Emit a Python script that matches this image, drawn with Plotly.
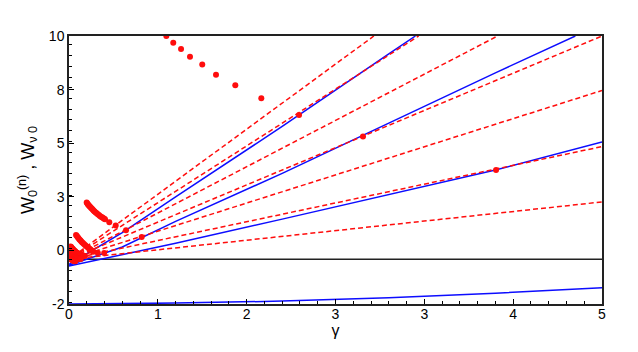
import numpy as np
import plotly.graph_objects as go

# ---- data ----
x_tick_labels = ["0", "1", "2", "3", "3", "4", "5"]
y_tick_labels = ["-2", "0", "3", "5", "8", "10"]

# solid blue curves
blue1_g = [0.0, 0.5, 1.0, 2.0, 3.0, 3.25]
blue1_w = [-0.22, 1.2, 2.8, 5.95, 9.2, 10.0]
blue2_g = [0.0, 0.5, 1.0, 2.0, 3.0, 4.0, 4.75]
blue2_w = [-0.27, 0.55, 1.7, 3.85, 6.1, 8.35, 10.0]
blue3_g = [0.0, 1.0, 2.0, 3.0, 4.0, 5.0]
blue3_w = [-0.3, 0.72, 1.8, 2.9, 4.0, 5.25]
blue0_g = [0.0, 1.0, 2.0, 3.0, 4.0, 5.0]
blue0_w = [-2.0, -1.96, -1.87, -1.72, -1.52, -1.27]

# horizontal zero line
zero_g = [0.0, 5.0]
zero_w = [0.0, 0.0]

# red dashed lines (start / end points)
dash_g0 = [0.10, 0.10, 0.10, 0.10, 0.10, 0.10, 0.10]
dash_w0 = [0.05, 0.10, 0.15, 0.20, 0.25, 0.30, 0.35]
dash_g1 = [5.0, 5.0, 5.0, 5.0, 4.02, 3.28, 2.86]
dash_w1 = [2.57, 5.05, 7.56, 10.0, 10.0, 10.0, 10.0]

# red dots
dotsA_g = [0.913, 0.978, 1.051, 1.135, 1.250, 1.379, 1.560, 1.804, 2.158, 2.758, 4.006]
dotsA_w = [10.0, 9.70, 9.42, 9.07, 8.72, 8.27, 7.79, 7.21, 6.46, 5.50, 4.00]
dotsB_g = [0.166, 0.172, 0.178, 0.185, 0.192, 0.200, 0.208, 0.216, 0.224, 0.232, 0.240,
           0.250, 0.260, 0.270, 0.280, 0.290, 0.300, 0.310, 0.320, 0.330, 0.338,
           0.378, 0.438, 0.535, 0.682]
dotsB_w = [2.54, 2.50, 2.46, 2.42, 2.38, 2.34, 2.30, 2.26, 2.22, 2.18, 2.14,
           2.10, 2.06, 2.02, 1.98, 1.94, 1.91, 1.88, 1.85, 1.82, 1.79,
           1.66, 1.51, 1.30, 1.00]
dotsC_g = [0.066, 0.074, 0.082, 0.090, 0.098, 0.106, 0.114, 0.122, 0.130, 0.140,
           0.150, 0.160, 0.170, 0.180, 0.190, 0.200, 0.210, 0.220, 0.228, 0.27, 0.33]
dotsC_w = [1.09, 1.04, 0.99, 0.94, 0.89, 0.85, 0.81, 0.77, 0.73, 0.69,
           0.64, 0.60, 0.56, 0.52, 0.48, 0.45, 0.41, 0.37, 0.34, 0.30, 0.28]
dotsD_g = [0.015, 0.020, 0.025, 0.030, 0.036, 0.042, 0.048, 0.055, 0.062, 0.070,
           0.078, 0.086, 0.094, 0.102, 0.110, 0.120, 0.130, 0.140, 0.150,
           0.010, 0.015, 0.020, 0.026, 0.032, 0.040, 0.048, 0.056, 0.064, 0.072,
           0.080, 0.090, 0.100, 0.110,
           0.008, 0.014, 0.020, 0.028, 0.036, 0.044, 0.052, 0.060]
dotsD_w = [0.58, 0.55, 0.52, 0.49, 0.46, 0.43, 0.40, 0.37, 0.34, 0.31,
           0.28, 0.26, 0.24, 0.22, 0.20, 0.18, 0.17, 0.16, 0.15,
           0.30, 0.27, 0.24, 0.21, 0.18, 0.15, 0.12, 0.10, 0.08, 0.06,
           0.05, 0.04, 0.03, 0.02,
           0.05, 0.02, 0.0, -0.03, -0.05, -0.07, -0.08, -0.09]

RED = "#ff0d0d"
BLUE = "#0d0dff"
FONT = "Liberation Sans, Arial, sans-serif"

fig = go.Figure()

fig.add_trace(go.Scatter(x=zero_g, y=zero_w, mode="lines",
                         line=dict(color="#222222", width=1.5), hoverinfo="skip"))

for g, w in [(blue0_g, blue0_w), (blue3_g, blue3_w), (blue2_g, blue2_w), (blue1_g, blue1_w)]:
    fig.add_trace(go.Scatter(x=g, y=w, mode="lines", line=dict(color=BLUE, width=1.5)))

for g0, w0, g1, w1 in zip(dash_g0, dash_w0, dash_g1, dash_w1):
    fig.add_trace(go.Scatter(x=[g0, g1], y=[w0, w1], mode="lines",
                             line=dict(color=RED, width=1.5, dash="5px,3px")))

all_g = dotsA_g + dotsB_g + dotsC_g + dotsD_g
all_w = dotsA_w + dotsB_w + dotsC_w + dotsD_w
fig.add_trace(go.Scatter(x=all_g, y=all_w, mode="markers", cliponaxis=True,
                         marker=dict(color=RED, size=6, line=dict(width=0))))

fig.update_layout(
    width=638, height=352,
    margin=dict(l=61, r=44, t=28, b=56),
    paper_bgcolor="white", plot_bgcolor="white",
    showlegend=False,
    font=dict(family=FONT, size=14, color="black"),
)

fig.update_xaxes(
    range=[0, 5],
    tickvals=np.linspace(0, 5, len(x_tick_labels)), ticktext=x_tick_labels,
    ticks="inside", ticklen=5, tickwidth=1, tickcolor="black",
    minor=dict(dtick=5 / 30, ticks="inside", ticklen=3, tickcolor="black"),
    showline=True, linecolor="#222222", linewidth=1.5, mirror=True,
    showgrid=False, zeroline=False, ticklabelstandoff=-4,
    title=dict(text="γ", font=dict(size=16, family=FONT), standoff=2),
    tickfont=dict(size=14), automargin=False,
)
fig.update_yaxes(
    range=[-2, 10],
    tickvals=np.linspace(-2, 10, len(y_tick_labels)), ticktext=y_tick_labels,
    ticks="inside", ticklen=5, tickwidth=1, tickcolor="black",
    minor=dict(dtick=12 / 25, ticks="inside", ticklen=3, tickcolor="black"),
    showline=True, linecolor="#222222", linewidth=1.5, mirror=True,
    showgrid=False, zeroline=False,
    title=dict(text="W<sub>0</sub><sup>(n)</sup> , W<sub>ν 0</sub>",
               font=dict(size=18, family=FONT), standoff=10),
    tickfont=dict(size=14), automargin=False,
)

fig.write_html("out.html")
